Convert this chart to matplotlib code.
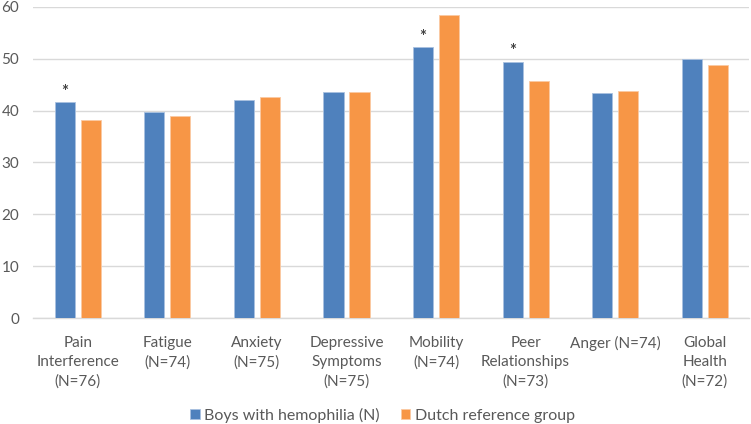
import matplotlib
matplotlib.use("Agg")
import matplotlib.pyplot as plt
import numpy as np

categories = ["Pain\nInterference\n(N=76)", "Fatigue\n(N=74)", "Anxiety\n(N=75)",
              "Depressive\nSymptoms\n(N=75)", "Mobility\n(N=74)", "Peer\nRelationships\n(N=73)",
              "Anger (N=74)", "Global\nHealth\n(N=72)"]
boys = [41.6, 39.7, 42.1, 43.6, 52.2, 49.4, 43.4, 49.9]
dutch = [38.2, 38.9, 42.6, 43.6, 58.5, 45.8, 43.7, 48.8]
significant = [True, False, False, False, True, True, False, False]
yticks = [0, 10, 20, 30, 40, 50, 60]

plt.rcParams['font.family'] = ['Lato', 'DejaVu Sans']
fig = plt.figure(figsize=(7.51, 4.24), dpi=100)
ax = fig.add_axes([0.044, 0.25, 0.954, 0.7335])

x = np.arange(len(categories))
w = 0.225
off = 0.145
blue = "#4F81BD"
orange = "#F79646"
ax.bar(x - off, boys, w, color=blue, edgecolor="#a9c1e0", linewidth=0.6, label="Boys with hemophilia (N)", zorder=3)
ax.bar(x + off, dutch, w, color=orange, edgecolor="#fbc9a3", linewidth=0.6, label="Dutch reference group", zorder=3)

for xi, b, s in zip(x, boys, significant):
    if s:
        ax.annotate("*", (xi - off, b), xytext=(0, 2), textcoords="offset points",
                    ha="center", va="bottom", fontsize=12, color="#404040", fontweight="bold")

ax.set_xlim(-0.5, len(categories) - 0.5)
ax.set_ylim(0, 60)
ax.set_yticks(yticks)
ax.yaxis.grid(True, color="#d9d9d9", linewidth=1.0, zorder=0)
ax.set_axisbelow(True)
for sp in ["top", "right", "left"]:
    ax.spines[sp].set_visible(False)
ax.spines["bottom"].set_color("#d9d9d9")
ax.spines["bottom"].set_linewidth(1.0)
ax.set_xticks(x)
ax.set_xticklabels(categories, fontsize=11, color="#595959", linespacing=1.45)
ax.tick_params(axis="x", length=0, pad=13)
ax.tick_params(axis="y", length=0, labelsize=11, labelcolor="#595959", pad=10)

ax.legend(loc="center", bbox_to_anchor=(0.488, -0.312), ncol=2, frameon=False,
          fontsize=11.5, labelcolor="#595959", handlelength=0.6, handleheight=0.6,
          handletextpad=0.3, columnspacing=1.3, borderpad=0.2)

fig.savefig("out.png", dpi=100)
